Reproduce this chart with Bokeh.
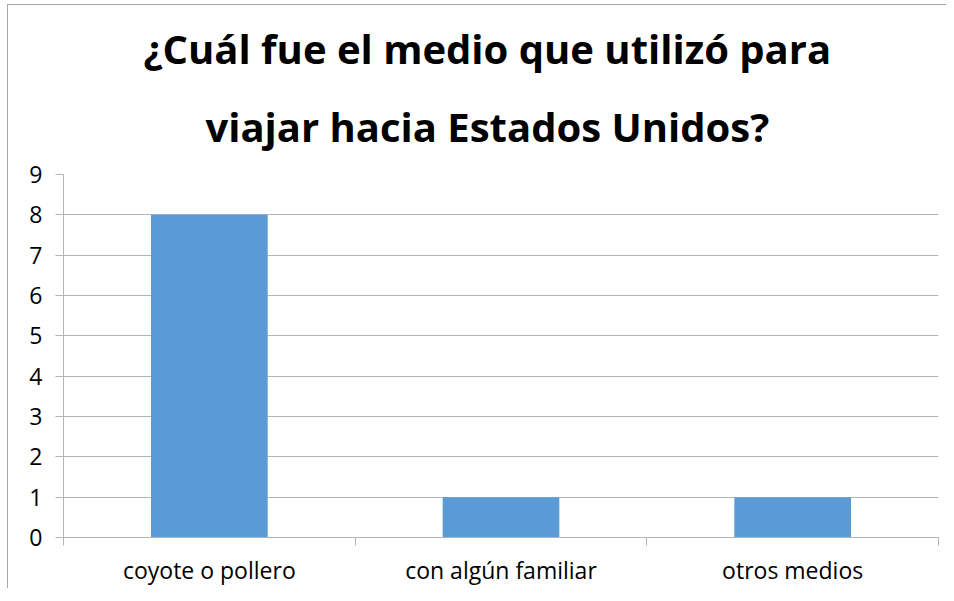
from bokeh.plotting import figure
from bokeh.models import (Range1d, LinearAxis, FixedTicker, Title, ColumnDataSource)
from bokeh.embed import file_html
from bokeh.resources import INLINE

title_lines = ["¿Cuál fue el medio que utilizó para", "viajar hacia Estados Unidos?"]
categories = ["coyote o pollero", "con algún familiar", "otros medios"]
values = [8, 1, 1]
y_ticks = [0, 1, 2, 3, 4, 5, 6, 7, 8, 9]

FONT = "Open Sans"
GRID = "#B4B4B4"

n = len(categories)
centers = [i + 0.5 for i in range(n)]
bounds = list(range(n + 1))
src = ColumnDataSource(dict(x=centers, val=values))

p = figure(x_range=Range1d(0, n), y_range=Range1d(0, 9),
           frame_width=875, frame_height=363,
           output_backend="svg", toolbar_location=None,
           x_axis_location=None, y_axis_location="left",
           min_border_left=55, min_border_right=8, min_border_top=169,
           min_border_bottom=0)

p.vbar(x="x", top="val", width=0.4, source=src, color="#5B9BD5", line_color=None)

# y axis
ya = p.yaxis[0]
ya.ticker = FixedTicker(ticks=y_ticks)
ya.axis_line_color = GRID
ya.major_tick_line_color = GRID
ya.major_tick_out = 8
ya.major_tick_in = 0
ya.minor_tick_line_color = None
ya.major_label_text_font = FONT
ya.major_label_text_font_size = "23px"
ya.major_label_text_color = "#000000"
ya.major_label_standoff = 13

p.ygrid.grid_line_color = GRID
p.ygrid.ticker = FixedTicker(ticks=y_ticks)
p.xgrid.grid_line_color = None
p.outline_line_color = None

# x axis: labels at category centres, tick marks at category boundaries
xa = LinearAxis(ticker=FixedTicker(ticks=centers, minor_ticks=bounds),
                major_label_overrides={c: lab for c, lab in zip(centers, categories)},
                axis_line_color=GRID, major_tick_line_color=None,
                major_tick_out=8, major_tick_in=0,
                minor_tick_line_color=GRID, minor_tick_out=8, minor_tick_in=0,
                major_label_text_font=FONT, major_label_text_font_size="23px",
                major_label_text_color="#000000", major_label_standoff=8)
p.add_layout(xa, "below")

# title lines: first added is nearest to the plot
p.add_layout(Title(text=title_lines[1], align="left", offset=142, text_font=FONT,
                   text_font_size="40px", text_font_style="bold",
                   text_color="#000000", standoff=42), "above")
p.add_layout(Title(text=title_lines[0], align="left", offset=80, text_font=FONT,
                   text_font_size="40px", text_font_style="bold",
                   text_color="#000000", standoff=0), "above")

p.styles = {"border-left": "1px solid #A6A6A6", "border-top": "1px solid #A6A6A6",
            "margin-left": "7px", "margin-top": "4px"}

open("out.html", "w").write(file_html(p, INLINE))
